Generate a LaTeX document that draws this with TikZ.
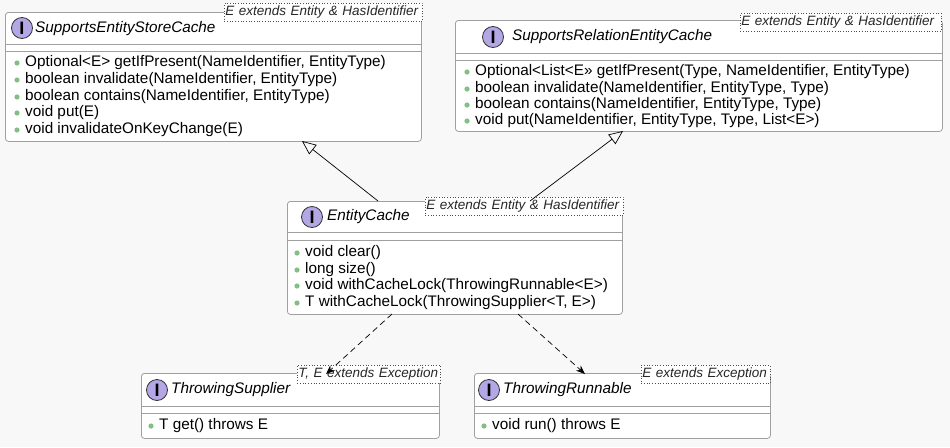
\documentclass[tikz,border=0pt]{standalone}
\usepackage{fontspec}
\setmainfont{Liberation Sans}
\usetikzlibrary{arrows.meta}
\definecolor{bg}{HTML}{F8F8F8}
\definecolor{bd}{HTML}{A0A0A0}
\definecolor{ic}{HTML}{B4A7E5}
\definecolor{gd}{HTML}{84BE84}
\tikzset{
 box/.style={draw=bd,line width=0.8pt,fill=white,rounded corners=3pt,anchor=north west,inner sep=0},
 tmpl/.style={draw=black!70,dotted,line width=0.7pt,fill=white,anchor=north west,inner sep=1pt,minimum height=18pt,text width=#1,align=left,font=\fontsize{13.5}{13.5}\selectfont\itshape,text=black!85},
 title/.style={anchor=west,font=\fontsize{15.3}{15.3}\selectfont\itshape,inner sep=0},
 meth/.style={anchor=west,font=\fontsize{15.3}{15.3}\selectfont,inner sep=0},
 icon/.style={circle,draw=black!80,line width=0.8pt,fill=ic,minimum size=21pt,inner sep=0,font=\fontsize{18}{18}\selectfont\bfseries\rmfamily},
 sep/.style={draw=bd,line width=0.8pt},
 inh/.style={draw=black,line width=0.7pt,-{Triangle[open,length=14pt,width=12pt]}},
 dep/.style={draw=black,line width=0.7pt,dash pattern=on 6pt off 4pt,-{Stealth[length=9pt,width=7pt]}},
}
\newcommand{\dotm}[3]{\fill[gd] (#1,#2) circle (2.6pt); \node[meth] at (#1+8,#2) {#3};}
\begin{document}
\begin{tikzpicture}[x=1pt,y=-1pt]
\fill[bg] (0,0) rectangle (950,447);
\useasboundingbox (0,0) rectangle (950,447);
% box1
\node[box,minimum width=416pt,minimum height=129pt] (b1) at (5,12) {};
\draw[sep] (5,44) -- (421,44); \draw[sep] (5,51) -- (421,51);
\node[icon] (i1) at (22,28) {I};
\node[title] (t1) at (35,29) {SupportsEntityStoreCache};
\node[tmpl=196pt] (p1) at (224,3) {E extends Entity \& HasIdentifier};
\dotm{17}{63}{Optional<E> getIfPresent(NameIdentifier, EntityType)}
\dotm{17}{80}{boolean invalidate(NameIdentifier, EntityType)}
\dotm{17}{97}{boolean contains(NameIdentifier, EntityType)}
\dotm{17}{113}{void put(E)}
\dotm{17}{130}{void invalidateOnKeyChange(E)}
% box2
\node[box,minimum width=487pt,minimum height=111pt] (b2) at (455,20) {};
\draw[sep] (455,53) -- (942,53); \draw[sep] (455,60) -- (942,60);
\node[icon] (i2) at (493,37) {I};
\node[title] (t2) at (512,37) {SupportsRelationEntityCache};
\node[tmpl=199pt] (p2) at (740,13) {E extends Entity \& HasIdentifier};
\dotm{467}{72}{Optional<List<E>> getIfPresent(Type, NameIdentifier, EntityType)}
\dotm{467}{89}{boolean invalidate(NameIdentifier, EntityType, Type)}
\dotm{467}{105}{boolean contains(NameIdentifier, EntityType, Type)}
\dotm{467}{121}{void put(NameIdentifier, EntityType, Type, List<E>)}
% box3
\node[box,minimum width=335pt,minimum height=113pt] (b3) at (287,201) {};
\draw[sep] (287,232) -- (622,232); \draw[sep] (287,240) -- (622,240);
\node[icon] (i3) at (312,217) {I};
\node[title] (t3) at (327,217) {EntityCache};
\node[tmpl=196pt] (p3) at (425,197) {E extends Entity \& HasIdentifier};
\dotm{297}{253}{void clear()}
\dotm{297}{270}{long size()}
\dotm{297}{286}{void withCacheLock(ThrowingRunnable<E>)}
\dotm{297}{303}{T withCacheLock(ThrowingSupplier<T, E>)}
% box4
\node[box,minimum width=298pt,minimum height=65pt] (b4) at (141,373) {};
\draw[sep] (141,406) -- (439,406); \draw[sep] (141,413) -- (439,413);
\node[icon] (i4) at (157,390) {I};
\node[title] (t4) at (171,390) {ThrowingSupplier};
\node[tmpl=141pt] (p4) at (297,365) {T, E extends Exception};
\dotm{151}{426}{T get() throws E}
% box5
\node[box,minimum width=296pt,minimum height=65pt] (b5) at (474,373) {};
\draw[sep] (474,406) -- (770,406); \draw[sep] (474,413) -- (770,413);
\node[icon] (i5) at (489,390) {I};
\node[title] (t5) at (503,390) {ThrowingRunnable};
\node[tmpl=127pt] (p5) at (641,365) {E extends Exception};
\dotm{484}{426}{void run() throws E}
% connectors
\coordinate (a1) at (378,201); \coordinate (a1e) at (302,141);
\coordinate (a2) at (530,201); \coordinate (a2e) at (623,131);
\coordinate (d1) at (392,314); \coordinate (d1e) at (326,374);
\coordinate (d2) at (518,314); \coordinate (d2e) at (585,374);
\draw[inh] (a1) -- (a1e);
\draw[inh] (a2) -- (a2e);
\draw[dep] (d1) -- (d1e);
\draw[dep] (d2) -- (d2e);
\end{tikzpicture}
\end{document}
